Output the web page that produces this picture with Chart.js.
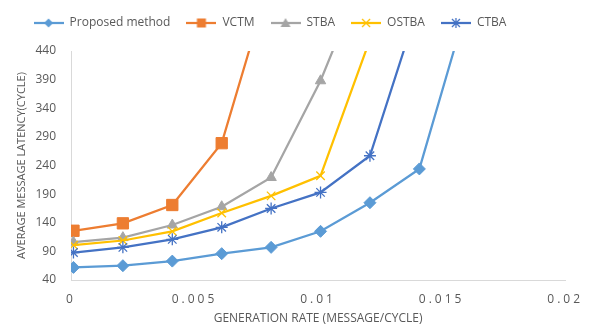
<!DOCTYPE html>
<html>
<head>
<meta charset="utf-8">
<script src="https://cdn.jsdelivr.net/npm/chart.js@4/dist/chart.umd.min.js"></script>
<style>
  html, body { margin: 0; padding: 0; background: #ffffff; }
  #wrap { width: 589px; height: 326px; }
</style>
</head>
<body>
<div id="wrap"><canvas id="chart" width="589" height="326"></canvas></div>
<script>
// Generation rates (message/cycle) at which latency was measured
const rates = [0.0001, 0.0021, 0.0041, 0.0061, 0.0081, 0.0101, 0.0121, 0.0141, 0.0161];

// Average message latency (cycle) per method
const proposedMethod = [62, 65, 73, 86, 97, 125, 175, 234, 530];
const vctm  = [126, 139, 171, 279, 570];
const stba  = [106, 114, 136, 168, 219, 388, 600];
const ostba = [101, 109, 125, 157, 187, 222, 460];
const ctba  = [88, 97, 111, 132, 165, 193, 257, 525];

// Axis tick labels
const xTicks = [0, 0.005, 0.01, 0.015, 0.02];
const yTicks = [40, 90, 140, 190, 240, 290, 340, 390, 440];

const seriesNames = ['Proposed method', 'VCTM', 'STBA', 'OSTBA', 'CTBA'];

const TEXT = '#595959';
const AXIS = '#D9D9D9';
const FONT = "'Open Sans', 'Noto Sans', sans-serif";

function pairs(values) {
  return values.map((v, i) => ({ x: rates[i], y: v }));
}

// Small line-with-marker swatch used in the legend
function swatch(color, style) {
  const c = document.createElement('canvas');
  c.width = 30; c.height = 12;
  const g = c.getContext('2d');
  g.strokeStyle = color; g.fillStyle = color; g.lineWidth = 2.25;
  g.beginPath(); g.moveTo(0, 6); g.lineTo(30, 6); g.stroke();
  const cx = 15, cy = 6;
  g.lineWidth = 1.3;
  if (style === 'rectRot') {
    g.beginPath(); g.moveTo(cx, cy - 4.5); g.lineTo(cx + 4.5, cy); g.lineTo(cx, cy + 4.5); g.lineTo(cx - 4.5, cy); g.closePath(); g.fill();
  } else if (style === 'rect') {
    g.fillRect(cx - 4.5, cy - 4.5, 9, 9);
  } else if (style === 'triangle') {
    g.beginPath(); g.moveTo(cx, cy - 5); g.lineTo(cx + 5, cy + 4); g.lineTo(cx - 5, cy + 4); g.closePath(); g.fill();
  } else if (style === 'crossRot') {
    g.beginPath(); g.moveTo(cx - 4, cy - 4); g.lineTo(cx + 4, cy + 4); g.moveTo(cx + 4, cy - 4); g.lineTo(cx - 4, cy + 4); g.stroke();
  } else if (style === 'star') {
    g.beginPath();
    g.moveTo(cx - 4, cy - 4); g.lineTo(cx + 4, cy + 4); g.moveTo(cx + 4, cy - 4); g.lineTo(cx - 4, cy + 4);
    g.moveTo(cx, cy - 5); g.lineTo(cx, cy + 5); g.stroke();
  }
  return c;
}

function series(index, values, color, style, radius) {
  return {
    label: seriesNames[index],
    data: pairs(values),
    order: seriesNames.length - index,
    borderColor: color,
    backgroundColor: color,
    borderWidth: 2.25,
    pointStyle: style,
    pointRadius: radius,
    pointHoverRadius: radius,
    pointBorderWidth: (style === 'crossRot' || style === 'star') ? 1.3 : 1,
    pointBorderColor: color,
    pointBackgroundColor: color,
    tension: 0,
    swatch: swatch(color, style)
  };
}

const datasets = [
  series(0, proposedMethod, '#5B9BD5', 'rectRot', 6),
  series(1, vctm,  '#ED7D31', 'rect', 8),
  series(2, stba,  '#A5A5A5', 'triangle', 6),
  series(3, ostba, '#FFC000', 'crossRot', 6),
  series(4, ctba,  '#4472C4', 'star', 6)
];

// Legend placement and tick spacing tweaks
const layoutTweaks = {
  id: 'layoutTweaks',
  afterInit(chart) {
    const lg = chart.legend;
    const fit = lg.fit;
    lg.fit = function () { fit.call(this); this.height = 50; };
  },
  afterLayout(chart) {
    chart.legend.left -= 16;
    chart.legend.right -= 16;
    const xs = chart.scales.x;
    if (!xs._spaced) {
      const draw = xs.drawLabels;
      xs.drawLabels = function (area) {
        const ctx = this.ctx;
        ctx.save();
        ctx.letterSpacing = '3px';
        draw.call(this, area);
        ctx.restore();
      };
      xs._spaced = true;
    }
  }
};

new Chart(document.getElementById('chart'), {
  type: 'line',
  data: { datasets: datasets },
  plugins: [layoutTweaks],
  options: {
    responsive: false,
    animation: false,
    layout: { padding: { top: 1, left: 0, right: 17, bottom: 0 } },
    plugins: {
      tooltip: { enabled: false },
      legend: {
        display: true,
        position: 'top',
        align: 'center',
        labels: {
          usePointStyle: true,
          pointStyleWidth: 30,
          boxHeight: 12,
          padding: 16,
          color: TEXT,
          font: { family: FONT, size: 12 },
          sort: (a, b) => a.datasetIndex - b.datasetIndex,
          generateLabels(chart) {
            const items = Chart.defaults.plugins.legend.labels.generateLabels(chart);
            items.forEach(it => { it.pointStyle = chart.data.datasets[it.datasetIndex].swatch; });
            return items;
          }
        }
      }
    },
    scales: {
      x: {
        type: 'linear',
        min: xTicks[0],
        max: xTicks[xTicks.length - 1],
        afterBuildTicks(scale) { scale.ticks = xTicks.map(v => ({ value: v })); },
        afterFit(scale) { scale.height = 46; },
        grid: { display: false, drawTicks: false },
        border: { display: true, color: AXIS, width: 1 },
        ticks: {
          padding: 12,
          color: TEXT,
          font: { family: FONT, size: 12 },
          maxRotation: 0,
          callback: v => String(v)
        },
        title: {
          display: true,
          text: 'GENERATION RATE (MESSAGE/CYCLE)',
          color: TEXT,
          font: { family: FONT, size: 12 },
          padding: { top: 1, bottom: 0 }
        }
      },
      y: {
        type: 'linear',
        min: yTicks[0],
        max: yTicks[yTicks.length - 1],
        afterBuildTicks(scale) { scale.ticks = yTicks.map(v => ({ value: v })); },
        afterFit(scale) { scale.width = 71; },
        grid: { display: false, drawTicks: false },
        border: { display: true, color: AXIS, width: 1 },
        ticks: {
          padding: 15,
          color: TEXT,
          font: { family: FONT, size: 12 }
        },
        title: {
          display: true,
          text: 'AVERAGE MESSAGE LATENCY(CYCLE)',
          color: TEXT,
          font: { family: FONT, size: 11 },
          padding: { top: 15, bottom: 0 }
        }
      }
    }
  }
});
</script>
</body>
</html>
